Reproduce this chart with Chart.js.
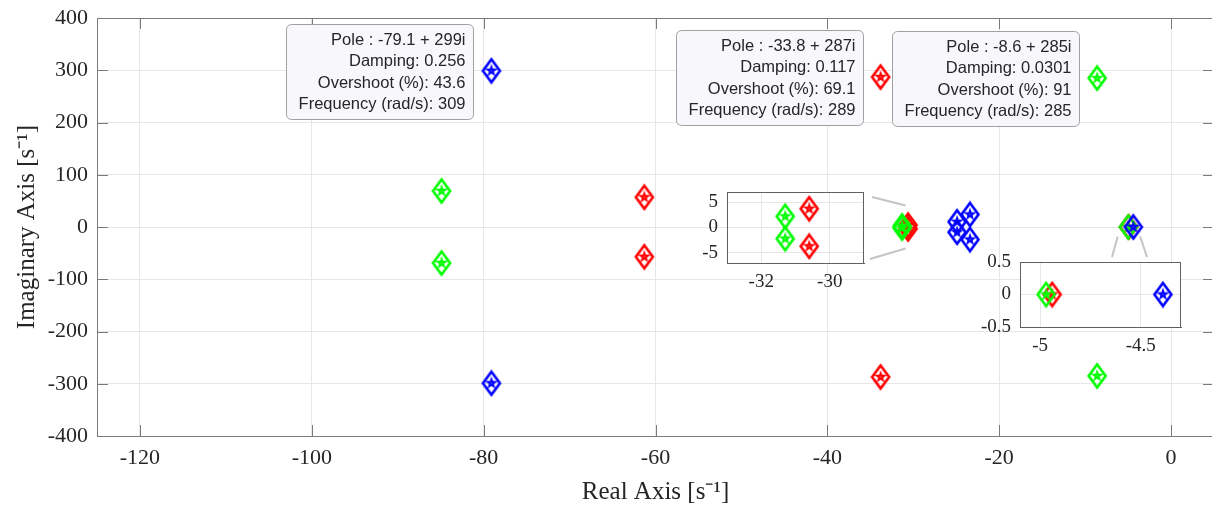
<!DOCTYPE html>
<html>
<head>
<meta charset="utf-8">
<script src="https://cdn.jsdelivr.net/npm/chart.js@4/dist/chart.umd.min.js"></script>
<style>
html, body { margin: 0; padding: 0; background: #fff; overflow: hidden; width: 1212px; height: 507px; }
#wrap { position: relative; width: 1230px; height: 507px; }
canvas { position: absolute; }
</style>
</head>
<body>
<div id="wrap">
  <canvas id="main" width="1230" height="507" style="left:0;top:0"></canvas>
  <canvas id="in1" width="184" height="117" style="left:682px;top:178px"></canvas>
  <canvas id="in2" width="208" height="111" style="left:975px;top:248px"></canvas>
</div>
<script>
// polos (parte real / imaginaria) de cada sistema
var blueX  = [-79.1, -79.1, -24.9, -24.9, -23.4, -23.4, -4.39]
var blueY  = [299, -299, 10, -10, 24, -24, 0]
var redX   = [-33.8, -33.8, -61.3, -61.3, -30.6, -30.6, -4.94]
var redY   = [287, -287, 57, -57, 3.7, -3.7, 0]
var greenX = [-8.6, -8.6, -84.9, -84.9, -31.3, -31.3, -4.97]
var greenY = [285, -285, 69, -69, 2.2, -2.2, 0]

// ticks
var mainXTicks = [-120, -100, -80, -60, -40, -20, 0]
var mainYTicks = [-400, -300, -200, -100, 0, 100, 200, 300, 400]
var in1XTicks = [-32, -30]
var in1YTicks = [-5, 0, 5]
var in2XTicks = [-5, -4.5]
var in2YTicks = [-0.5, 0, 0.5]

// datatips: [serie, indice, linhas]
var tips = [
    [0, 0, ['Pole : -79.1 + 299i', 'Damping: 0.256', 'Overshoot (%): 43.6', 'Frequency (rad/s): 309']],
    [2, 0, ['Pole : -33.8 + 287i', 'Damping: 0.117', 'Overshoot (%): 69.1', 'Frequency (rad/s): 289']],
    [1, 0, ['Pole : -8.6 + 285i', 'Damping: 0.0301', 'Overshoot (%): 91', 'Frequency (rad/s): 285']]
]

var serif = "'Liberation Serif', 'Times New Roman', serif"
var sans = "'Liberation Sans', Arial, sans-serif"
var txt = '#262626'

// marcador: losango com estrela no meio
function makeMarker(color){
    var c = document.createElement('canvas')
    c.width = 22; c.height = 28
    var g = c.getContext('2d')
    g.strokeStyle = color
    g.lineWidth = 2.6
    g.lineJoin = 'miter'
    g.beginPath()
    g.moveTo(11, 2.5); g.lineTo(19.5, 14); g.lineTo(11, 25.5); g.lineTo(2.5, 14)
    g.closePath()
    g.stroke()
    g.lineWidth = 1.8
    g.beginPath()
    for (var i = 0; i < 5; i++) {
        var a = -Math.PI / 2 + i * 4 * Math.PI / 5
        var x = 11 + 4.2 * Math.cos(a), y = 14 + 4.2 * Math.sin(a)
        if (i == 0) g.moveTo(x, y); else g.lineTo(x, y)
    }
    g.closePath()
    g.stroke()
    return c
}
var mBlue = makeMarker('#0000ff')
var mRed = makeMarker('#ff0000')
var mGreen = makeMarker('#00ff00')

function pts(xs, ys){
    return xs.map((x, i) => ({x: x, y: ys[i]}))
}

function makeSets(clip){
    return [
        {data: pts(blueX, blueY), pointStyle: mBlue, clip: clip},
        {data: pts(greenX, greenY), pointStyle: mGreen, clip: clip},
        {data: pts(redX, redY), pointStyle: mRed, clip: clip}
    ].map(d => Object.assign(d, {showLine: false, pointRadius: 10, pointHoverRadius: 10}))
}

function setTicks(arr){
    return function(scale){ scale.ticks = arr.map(v => ({value: v})) }
}

// tamanho fixo e sem padding automatico dos rotulos
function fixSize(prop, val){
    return function(s){
        s[prop] = val
        s.paddingTop = 0; s.paddingBottom = 0; s.paddingLeft = 0; s.paddingRight = 0
    }
}

// caixa e ticks para dentro
var boxPlugin = {
    id: 'box',
    beforeDraw(chart, args, opts){
        if (!opts.fill) return
        var a = chart.chartArea, c = chart.ctx
        c.save(); c.fillStyle = '#fff'
        c.fillRect(a.left, a.top, a.right - a.left, a.bottom - a.top)
        c.restore()
    },
    afterDatasetsDraw(chart, args, opts){
        var a = chart.chartArea, c = chart.ctx, L = opts.len || 0
        c.save()
        c.strokeStyle = opts.color
        c.lineWidth = 1
        c.strokeRect(a.left + 0.5, a.top + 0.5, a.right - a.left - 1, a.bottom - a.top)
        if (L > 0) {
            c.beginPath()
            chart.scales.x.ticks.forEach(t => {
                var px = Math.round(chart.scales.x.getPixelForValue(t.value)) + 0.5
                c.moveTo(px, a.bottom); c.lineTo(px, a.bottom - L)
                c.moveTo(px, a.top); c.lineTo(px, a.top + L)
            })
            chart.scales.y.ticks.forEach(t => {
                var py = Math.round(chart.scales.y.getPixelForValue(t.value)) + 0.5
                c.moveTo(a.left, py); c.lineTo(a.left + L, py)
                c.moveTo(a.right, py); c.lineTo(a.right - L, py)
            })
            c.stroke()
        }
        c.restore()
    }
}

// linhas ligando os zooms
var in1Box = {l: 727, t: 192, r: 864, b: 263}
var in2Box = {l: 1020, t: 262, r: 1181, b: 327}
var linkPlugin = {
    id: 'links',
    afterDatasetsDraw(chart){
        var xs = chart.scales.x, ys = chart.scales.y, c = chart.ctx
        c.save()
        c.strokeStyle = '#c4c4c4'
        c.lineWidth = 2
        c.beginPath()
        c.moveTo(in1Box.r + 8, in1Box.t + 5); c.lineTo(xs.getPixelForValue(-30.9), ys.getPixelForValue(41))
        c.moveTo(in1Box.r + 6, in1Box.b - 4); c.lineTo(xs.getPixelForValue(-30.9), ys.getPixelForValue(-41))
        c.moveTo(in2Box.l + 92, in2Box.t - 5); c.lineTo(xs.getPixelForValue(-6.2), ys.getPixelForValue(-18))
        c.moveTo(in2Box.l + 127, in2Box.t - 5); c.lineTo(xs.getPixelForValue(-3.6), ys.getPixelForValue(-18))
        c.stroke()
        c.restore()
    }
}

function roundRect(c, x, y, w, h, r){
    c.beginPath()
    c.moveTo(x + r, y)
    c.arcTo(x + w, y, x + w, y + h, r)
    c.arcTo(x + w, y + h, x, y + h, r)
    c.arcTo(x, y + h, x, y, r)
    c.arcTo(x, y, x + w, y, r)
    c.closePath()
}

var tipPlugin = {
    id: 'tips',
    afterDraw(chart){
        var c = chart.ctx
        tips.forEach(tp => {
            var el = chart.getDatasetMeta(tp[0]).data[tp[1]]
            var w = 187, h = 95
            var right = Math.round(el.x) - 17.5, top = Math.round(el.y) - 46.5
            c.save()
            roundRect(c, right - w, top, w, h, 5)
            c.fillStyle = 'rgba(248,248,252,0.97)'
            c.fill()
            c.strokeStyle = '#a0a0a0'
            c.lineWidth = 1
            c.stroke()
            c.fillStyle = txt
            c.font = '16.5px ' + sans
            c.textAlign = 'right'
            c.textBaseline = 'middle'
            tp[2].forEach((s, i) => c.fillText(s, right - 8, top + 16 + i * 21.3))
            c.restore()
        })
    }
}

new Chart(document.getElementById('main'), {
    type: 'scatter',
    data: {datasets: makeSets(undefined)},
    plugins: [boxPlugin, linkPlugin, tipPlugin],
    options: {
        responsive: false,
        animation: false,
        events: [],
        layout: {autoPadding: false, padding: {left: 0, top: 18, right: 16, bottom: 0}},
        plugins: {legend: {display: false}, tooltip: {enabled: false}, box: {color: '#7a7a7a', len: 11}},
        scales: {
            x: {
                type: 'linear', min: -125, max: 5,
                afterBuildTicks: setTicks(mainXTicks),
                afterFit: fixSize('height', 71),
                ticks: {padding: 9, autoSkip: false, maxRotation: 0, color: txt, font: {family: serif, size: 22}, callback: v => String(v)},
                grid: {color: '#e6e6e6', drawTicks: false},
                border: {color: '#7a7a7a'},
                title: {display: true, text: 'Real Axis [s⁻¹]', color: txt, font: {family: serif, size: 25}, padding: {top: 0, bottom: 0}}
            },
            y: {
                type: 'linear', min: -400, max: 400,
                afterBuildTicks: setTicks(mainYTicks),
                afterFit: fixSize('width', 97),
                ticks: {padding: 9, autoSkip: false, color: txt, font: {family: serif, size: 22}, callback: v => String(v)},
                grid: {color: '#e6e6e6', drawTicks: false},
                border: {color: '#7a7a7a'},
                title: {display: true, text: 'Imaginary Axis [s⁻¹]', color: txt, font: {family: serif, size: 25}, padding: {top: 12, bottom: 0}}
            }
        }
    }
})

function insetOpts(xmin, xmax, xt, ymin, ymax, yt){
    return {
        responsive: false,
        animation: false,
        events: [],
        layout: {autoPadding: false, padding: {left: 0, top: 14, right: 2, bottom: 0}},
        plugins: {legend: {display: false}, tooltip: {enabled: false}, box: {color: '#606060', len: 0, fill: true}},
        scales: {
            x: {
                type: 'linear', min: xmin, max: xmax,
                afterBuildTicks: setTicks(xt),
                afterFit: fixSize('height', 32),
                ticks: {padding: 8, autoSkip: false, maxRotation: 0, color: txt, font: {family: serif, size: 19}, callback: v => String(v)},
                grid: {color: '#e6e6e6', drawTicks: false},
                border: {color: '#606060'}
            },
            y: {
                type: 'linear', min: ymin, max: ymax,
                afterBuildTicks: setTicks(yt),
                afterFit: fixSize('width', 45),
                ticks: {padding: 9, autoSkip: false, color: txt, font: {family: serif, size: 19}, callback: v => String(v)},
                grid: {color: '#e6e6e6', drawTicks: false},
                border: {color: '#606060'}
            }
        }
    }
}

new Chart(document.getElementById('in1'), {
    type: 'scatter',
    data: {datasets: makeSets(0)},
    plugins: [boxPlugin],
    options: insetOpts(-33, -29, in1XTicks, -7, 7, in1YTicks)
})

new Chart(document.getElementById('in2'), {
    type: 'scatter',
    data: {datasets: makeSets(0)},
    plugins: [boxPlugin],
    options: insetOpts(-5.1, -4.3, in2XTicks, -0.5, 0.5, in2YTicks)
})
</script>
</body>
</html>
